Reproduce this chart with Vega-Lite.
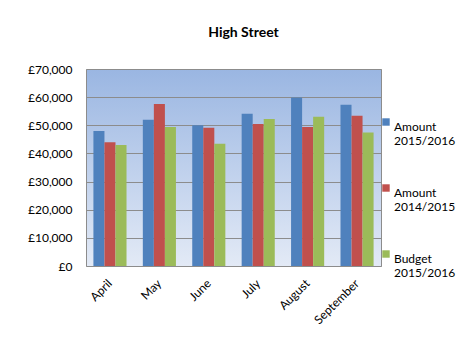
{
  "$schema": "https://vega.github.io/schema/vega-lite/v6.json",
  "autosize": "none",
  "width": 295,
  "height": 197,
  "padding": {"left": 86, "top": 69, "right": 85, "bottom": 80},
  "background": "white",
  "title": {
    "text": "High Street",
    "font": "Lato",
    "fontSize": 14,
    "fontWeight": "bold",
    "color": "black",
    "anchor": "middle",
    "dx": 10,
    "offset": 23
  },
  "config": {
    "font": "Lato",
    "view": {
      "stroke": "#8c8c8c",
      "strokeWidth": 1,
      "fill": {
        "gradient": "linear",
        "x1": 0, "y1": 0, "x2": 0, "y2": 1,
        "stops": [
          {"offset": 0, "color": "#9AB6E2"},
          {"offset": 1, "color": "#E3EAF6"}
        ]
      }
    }
  },
  "data": {
    "values": [
      {"month": "April", "series": "Amount 2015/2016", "value": 48000},
      {"month": "April", "series": "Amount 2014/2015", "value": 44000},
      {"month": "April", "series": "Budget 2015/2016", "value": 43000},
      {"month": "May", "series": "Amount 2015/2016", "value": 52000},
      {"month": "May", "series": "Amount 2014/2015", "value": 57600},
      {"month": "May", "series": "Budget 2015/2016", "value": 49400},
      {"month": "June", "series": "Amount 2015/2016", "value": 50000},
      {"month": "June", "series": "Amount 2014/2015", "value": 49100},
      {"month": "June", "series": "Budget 2015/2016", "value": 43400},
      {"month": "July", "series": "Amount 2015/2016", "value": 54100},
      {"month": "July", "series": "Amount 2014/2015", "value": 50500},
      {"month": "July", "series": "Budget 2015/2016", "value": 52200},
      {"month": "August", "series": "Amount 2015/2016", "value": 59900},
      {"month": "August", "series": "Amount 2014/2015", "value": 49400},
      {"month": "August", "series": "Budget 2015/2016", "value": 53000},
      {"month": "September", "series": "Amount 2015/2016", "value": 57300},
      {"month": "September", "series": "Amount 2014/2015", "value": 53400},
      {"month": "September", "series": "Budget 2015/2016", "value": 47400}
    ]
  },
  "mark": {"type": "bar"},
  "encoding": {
    "x": {
      "field": "month",
      "type": "nominal",
      "sort": ["April", "May", "June", "July", "August", "September"],
      "scale": {"paddingInner": 0.33, "paddingOuter": 0.15},
      "axis": {
        "title": null,
        "labelAngle": -45,
        "labelAlign": "right",
        "labelBaseline": "middle",
        "ticks": false,
        "domain": false,
        "labelFontSize": 12,
        "labelColor": "black",
        "labelPadding": 15
      }
    },
    "xOffset": {
      "field": "series",
      "type": "nominal",
      "sort": ["Amount 2015/2016", "Amount 2014/2015", "Budget 2015/2016"]
    },
    "y": {
      "field": "value",
      "type": "quantitative",
      "scale": {"domain": [0, 70000], "nice": false},
      "axis": {
        "title": null,
        "values": [0, 10000, 20000, 30000, 40000, 50000, 60000, 70000],
        "labelExpr": "'£' + format(datum.value, ',')",
        "grid": true,
        "gridColor": "#8c8c8c",
        "gridOpacity": 1,
        "ticks": false,
        "domain": false,
        "labelFontSize": 12,
        "labelColor": "black",
        "labelPadding": 14
      }
    },
    "color": {
      "field": "series",
      "type": "nominal",
      "scale": {
        "domain": ["Amount 2015/2016", "Amount 2014/2015", "Budget 2015/2016"],
        "range": ["#4F81BD", "#C0504D", "#9BBB59"]
      },
      "legend": {
        "title": null,
        "orient": "none",
        "legendX": 294,
        "legendY": 47,
        "symbolType": "square",
        "symbolSize": 55,
        "symbolStrokeWidth": 0,
        "labelExpr": "split(datum.label, ' ')",
        "labelFontSize": 12,
        "labelColor": "black",
        "labelOffset": 2,
        "rowPadding": 35,
        "labelBaseline": "top",
        "labelLimit": 200
      }
    }
  }
}
